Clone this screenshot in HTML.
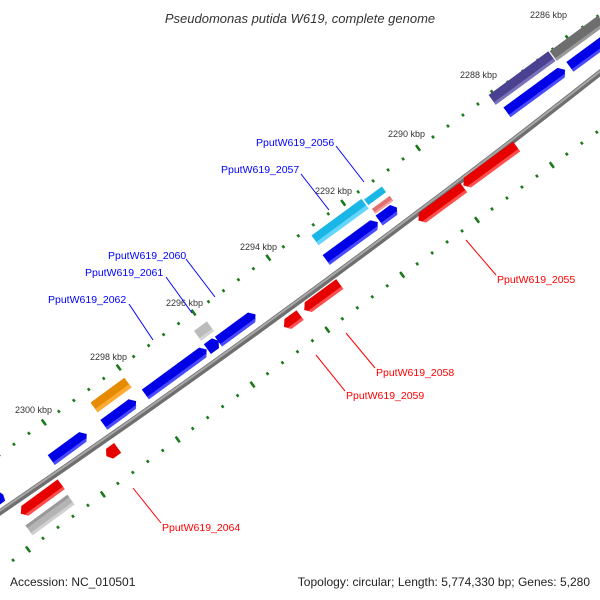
<!DOCTYPE html>
<html><head><meta charset="utf-8"><style>
html,body{margin:0;padding:0;background:#fff;}
svg{display:block;font-family:"Liberation Sans",sans-serif;}
</style></head><body>
<svg width="600" height="600" viewBox="0 0 600 600" xmlns="http://www.w3.org/2000/svg">
<text x="300" y="23" text-anchor="middle" font-size="13" font-style="italic" fill="#333">Pseudomonas putida W619, complete genome</text>

<!-- tick rows -->
<g fill="none" stroke="#1a7a1a">
<line x1="-65.8" y1="502.8" x2="659.9" y2="-29.4" stroke-width="3" stroke-dasharray="2.5 16.06" stroke-dashoffset="13.73"/>
<line x1="-65.8" y1="502.8" x2="659.9" y2="-29.4" stroke-width="7" stroke-dasharray="2.5 90.3" stroke-dashoffset="50.85"/>
<line x1="-6.8" y1="574.8" x2="718.9" y2="42.6" stroke-width="3" stroke-dasharray="2.5 16.06" stroke-dashoffset="13.73"/>
<line x1="-6.8" y1="574.8" x2="718.9" y2="42.6" stroke-width="7" stroke-dasharray="2.5 90.3" stroke-dashoffset="50.85"/>
</g>

<!-- backbone -->
<path d="M-10,519 Q308,303 610,65" fill="none" stroke="#6f6f6f" stroke-width="6"/>
<path d="M-10,517.5 Q308,301.5 610,63.5" fill="none" stroke="#a8a8a8" stroke-width="2"/>

<!-- kbp labels -->
<g font-size="9" fill="#333">
<text x="530" y="18">2286 kbp</text>
<text x="460" y="78">2288 kbp</text>
<text x="388" y="137">2290 kbp</text>
<text x="315" y="194">2292 kbp</text>
<text x="240" y="250">2294 kbp</text>
<text x="166" y="306">2296 kbp</text>
<text x="90" y="360">2298 kbp</text>
<text x="15" y="413">2300 kbp</text>
</g>

<g>
<g transform="translate(536,91) rotate(-36.25)"><polygon points="-36,-6 31,-6 36,0 31,6 -36,6" fill="#0000e6"/><polygon points="-36,3 34,3 31,6 -36,6" fill="#4a4aff"/></g>
<g transform="translate(586,55) rotate(-36.25)"><polygon points="-20,-6 25,-6 25,6 -20,6" fill="#0000e6"/><polygon points="-20,3 25,3 25,6 -20,6" fill="#4a4aff"/></g>
<g transform="translate(352,241) rotate(-36.25)"><polygon points="-32,-6 27,-6 32,0 27,6 -32,6" fill="#0000e6"/><polygon points="-32,3 30,3 27,6 -32,6" fill="#4a4aff"/></g>
<g transform="translate(388,214) rotate(-36.25)"><polygon points="-11,-6 7,-6 11,0 7,6 -11,6" fill="#0000e6"/><polygon points="-11,3 9,3 7,6 -11,6" fill="#4a4aff"/></g>
<g transform="translate(176,372) rotate(-36.25)"><polygon points="-38,-6 33,-6 38,0 33,6 -38,6" fill="#0000e6"/><polygon points="-38,3 36,3 33,6 -38,6" fill="#4a4aff"/></g>
<g transform="translate(213,345) rotate(-36.25)"><polygon points="-7,-6 3,-6 7,0 3,6 -7,6" fill="#0000e6"/></g>
<g transform="translate(237,328) rotate(-36.25)"><polygon points="-23,-6 18,-6 23,0 18,6 -23,6" fill="#0000e6"/><polygon points="-23,3 21,3 18,6 -23,6" fill="#4a4aff"/></g>
<g transform="translate(120,413) rotate(-36.25)"><polygon points="-20,-6 15,-6 20,0 15,6 -20,6" fill="#0000e6"/><polygon points="-20,3 18,3 15,6 -20,6" fill="#4a4aff"/></g>
<g transform="translate(69,447) rotate(-36.25)"><polygon points="-22,-6 17,-6 22,0 17,6 -22,6" fill="#0000e6"/><polygon points="-22,3 20,3 17,6 -22,6" fill="#4a4aff"/></g>
<g transform="translate(0,497) rotate(-36.25)"><polygon points="-6,-6 2,-6 4,0 2,6 -6,6" fill="#0000e6"/></g>

<g transform="translate(575,40) rotate(-36.25)"><rect x="-27" y="-6" width="60" height="12" fill="#6e6e6e"/><rect x="-27" y="3" width="60" height="3" fill="#999"/></g>
<g transform="translate(522,78) rotate(-36.25)"><rect x="-37" y="-6" width="74" height="12" fill="#4a4290"/><rect x="-37" y="3" width="74" height="3" fill="#7a72b8"/></g>
<g transform="translate(340,222) rotate(-36.25)"><rect x="-31" y="-6" width="62" height="12" fill="#1ab6e6"/><rect x="-31" y="2" width="62" height="4" fill="#66d6ff"/></g>
<g transform="translate(376,197) rotate(-36.25)"><rect x="-11" y="-5" width="22" height="7" fill="#1ab6e6"/></g>
<g transform="translate(382,204) rotate(-36.25)"><rect x="-11" y="-2" width="22" height="6" fill="#e07070"/><rect x="-11" y="2" width="22" height="2" fill="#f4a0a0"/></g>
<g transform="translate(204,331) rotate(-36.25)"><rect x="-8" y="-6" width="16" height="12" fill="#bbb"/><rect x="-8" y="3" width="16" height="3" fill="#d4d4d4"/></g>
<g transform="translate(111,395) rotate(-36.25)"><rect x="-21" y="-6" width="42" height="12" fill="#e68a00"/><rect x="-21" y="2" width="42" height="4" fill="#ffaa33"/></g>

<g transform="translate(441,204) rotate(-36.25)"><polygon points="-28,0 -23,-6 28,-6 28,6 -23,6" fill="#e60000"/><polygon points="-25,3 28,3 28,6 -23,6" fill="#ff5050"/></g>
<g transform="translate(490,166) rotate(-36.25)"><polygon points="-33,0 -28,-6 33,-6 33,6 -28,6" fill="#e60000"/><polygon points="-30,3 33,3 33,6 -28,6" fill="#ff5050"/></g>
<g transform="translate(292,321) rotate(-36.25)"><polygon points="-10,0 -5,-6 10,-6 10,6 -5,6" fill="#e60000"/><polygon points="-8,3 10,3 10,6 -5,6" fill="#ff5050"/></g>
<g transform="translate(322,297) rotate(-36.25)"><polygon points="-22,0 -17,-6 22,-6 22,6 -17,6" fill="#e60000"/><polygon points="-19,3 22,3 22,6 -17,6" fill="#ff5050"/></g>
<g transform="translate(112,452) rotate(-36.25)"><polygon points="-7,0 -3,-6 7,-6 7,6 -3,6" fill="#e60000"/></g>
<g transform="translate(41,499) rotate(-36.25)"><polygon points="-25,0 -20,-6 25,-6 25,6 -20,6" fill="#e60000"/><polygon points="-22,3 25,3 25,6 -20,6" fill="#ff5050"/></g>
<g transform="translate(50,515) rotate(-36.25)"><rect x="-26" y="-6" width="52" height="12" fill="#b4b4b4"/><rect x="-26" y="-6" width="52" height="3" fill="#999"/><rect x="-26" y="3" width="52" height="3" fill="#d0d0d0"/></g>
</g>

<g stroke-width="1">
<line x1="336" y1="146" x2="364" y2="182" stroke="#0000ff"/>
<line x1="301" y1="174" x2="329" y2="210" stroke="#0000ff"/>
<line x1="186" y1="259" x2="215" y2="297" stroke="#0000ff"/>
<line x1="166" y1="277" x2="192" y2="313" stroke="#0000ff"/>
<line x1="129" y1="304" x2="153" y2="340" stroke="#0000ff"/>
<line x1="466" y1="240" x2="496" y2="275" stroke="#ff0000"/>
<line x1="346" y1="333" x2="375" y2="368" stroke="#ff0000"/>
<line x1="316" y1="355" x2="345" y2="391" stroke="#ff0000"/>
<line x1="133" y1="488" x2="161" y2="523" stroke="#ff0000"/>
</g>
<g font-size="10.5">
<text x="256" y="146" fill="#0000ff">PputW619_2056</text>
<text x="221" y="173" fill="#0000ff">PputW619_2057</text>
<text x="108" y="259" fill="#0000ff">PputW619_2060</text>
<text x="85" y="276" fill="#0000ff">PputW619_2061</text>
<text x="48" y="303" fill="#0000ff">PputW619_2062</text>
<text x="497" y="283" fill="#ff0000">PputW619_2055</text>
<text x="376" y="376" fill="#ff0000">PputW619_2058</text>
<text x="346" y="399" fill="#ff0000">PputW619_2059</text>
<text x="162" y="531" fill="#ff0000">PputW619_2064</text>
</g>

<text x="10" y="586" font-size="12" fill="#222">Accession: NC_010501</text>
<text x="590" y="586" font-size="12" fill="#222" text-anchor="end">Topology: circular; Length: 5,774,330 bp; Genes: 5,280</text>
</svg>
</body></html>
